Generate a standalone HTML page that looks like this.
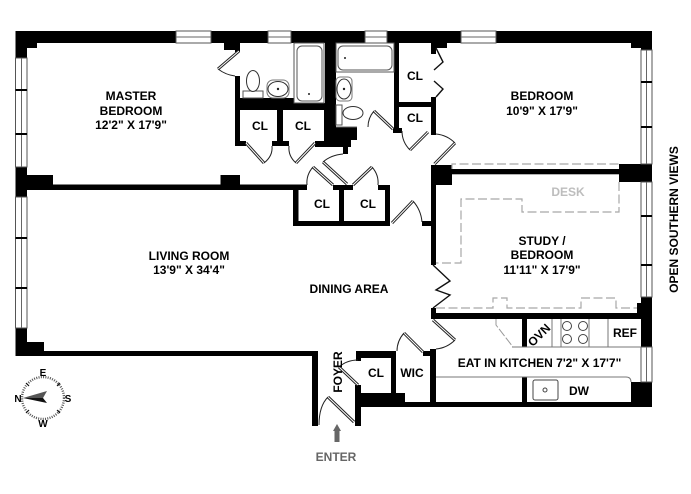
<!DOCTYPE html>
<html>
<head>
<meta charset="utf-8">
<style>
html,body{margin:0;padding:0;background:#fff;}
svg{display:block;filter:blur(0.3px);}
text{font-family:"Liberation Sans",sans-serif;font-weight:bold;font-size:12px;fill:#000;text-anchor:middle;}
</style>
</head>
<body>
<svg width="691" height="494" viewBox="0 0 691 494" xmlns="http://www.w3.org/2000/svg">
<rect width="691" height="494" fill="#fff"/>

<!-- walls -->
<g fill="#000">
  <!-- top wall -->
  <rect x="15.5" y="31" width="636.5" height="12"/>
  <rect x="15.5" y="31" width="11.5" height="27"/>
  <rect x="15.5" y="43" width="21.5" height="5"/>
  <rect x="224" y="43" width="16" height="7"/>
  <rect x="235" y="43" width="5" height="9"/>
  <rect x="431" y="43" width="16" height="5"/>
  <rect x="431" y="43" width="5" height="11"/>
  <rect x="631" y="43" width="21" height="5"/>
  <rect x="641" y="43" width="11" height="7"/>
  <!-- left blocks -->
  <rect x="15.5" y="167" width="11.5" height="30"/>
  <rect x="15.5" y="175" width="37.5" height="15"/>
  <rect x="15.5" y="184.5" width="291.5" height="5.5"/>
  <rect x="220.5" y="175" width="19.5" height="10"/>
  <rect x="15.5" y="328" width="11.5" height="28"/>
  <rect x="15.5" y="342" width="28.5" height="14"/>
  <rect x="15.5" y="351" width="302.5" height="5"/>
  <rect x="312" y="351" width="6" height="75"/>
  <!-- master bath walls -->
  <rect x="235" y="76" width="5" height="70"/>
  <rect x="235" y="98" width="59" height="12"/>
  <rect x="294" y="103" width="31" height="7"/>
  <rect x="235" y="141" width="11" height="5"/>
  <rect x="272" y="141" width="17" height="5"/>
  <rect x="277" y="107" width="6" height="39"/>
  <rect x="315" y="141" width="33" height="6"/>
  <rect x="324" y="107" width="12" height="39"/>
  <rect x="325" y="43" width="11" height="85"/>
  <rect x="336" y="127" width="21" height="13"/>
  <rect x="324" y="133" width="33" height="7"/>
  <rect x="336" y="139" width="15" height="8"/>
  <rect x="343" y="140" width="5" height="14"/>
  <!-- closets lower -->
  <rect x="293" y="185" width="14" height="5"/>
  <rect x="293" y="185" width="5.5" height="41"/>
  <rect x="293" y="221" width="97" height="5"/>
  <rect x="333" y="185" width="20" height="5"/>
  <rect x="339" y="185" width="5" height="41"/>
  <rect x="378" y="185" width="12" height="5"/>
  <rect x="385" y="185" width="5" height="41"/>
  <rect x="422" y="221" width="10" height="5"/>
  <!-- upper closets -->
  <rect x="394" y="43" width="5" height="89"/>
  <rect x="393" y="128" width="9" height="5"/>
  <rect x="394" y="102" width="42" height="5"/>
  <rect x="431" y="97" width="5" height="38"/>
  <!-- center east wall -->
  <rect x="431" y="165" width="5" height="100"/>
  <rect x="431" y="165" width="21" height="20"/>
  <rect x="452" y="169" width="167" height="5.3"/>
  <rect x="619" y="164" width="33" height="18"/>
  <rect x="431" y="308" width="5" height="11"/>
  <rect x="431" y="313" width="206" height="6"/>
  <rect x="637" y="303" width="4" height="16"/>
  <rect x="641" y="297" width="11" height="50"/>
  <!-- kitchen / south -->
  <rect x="522" y="319" width="5" height="28"/>
  <rect x="522" y="377" width="5" height="25"/>
  <rect x="631" y="382" width="21" height="25"/>
  <rect x="355" y="402" width="297" height="5"/>
  <rect x="355" y="393" width="50" height="14"/>
  <rect x="355" y="385" width="6" height="41"/>
  <rect x="356" y="351" width="40" height="7"/>
  <rect x="356" y="351" width="5" height="10"/>
  <rect x="391" y="351" width="5" height="42"/>
  <rect x="423" y="351" width="13" height="5"/>
  <rect x="430" y="349" width="6" height="58"/>
</g>

<!-- windows -->
<g fill="#fff" stroke="#555" stroke-width="1">
  <rect x="176" y="31" width="35" height="12"/>
  <rect x="268" y="31" width="23" height="12"/>
  <rect x="365" y="31" width="22" height="12"/>
  <rect x="461" y="31" width="35" height="12"/>
  <rect x="15.5" y="58" width="11.5" height="109"/>
  <rect x="15.5" y="197" width="11.5" height="131"/>
  <rect x="641" y="50" width="11" height="114"/>
  <rect x="641" y="182" width="11" height="115"/>
  <rect x="641" y="347" width="11" height="35"/>
</g>
<g stroke="#666" stroke-width="1" fill="none">
  <path d="M176 37H211M268 37H291M365 37H387M461 37H496"/>
  <path d="M21.5 58V167M21.5 197V328M646.5 50V164M646.5 182V297M646.5 347V382"/>
</g>
<g stroke="#000" stroke-width="2" fill="none">
  <path d="M15.5 90H27M15.5 134H27M15.5 238H27M15.5 288H27"/>
  <path d="M641 82H652M641 127H652M641 216H652M641 265H652"/>
</g>

<!-- door leaves (double line) -->
<g fill="none" stroke="#222" stroke-width="3" stroke-linecap="butt">
  <path d="M239 51L218 69M246 143L264 163M315 143L296 163M374 111L393 129M428 132L410 150M434.5 164L455 143M323 162L347 184M313 167L333 185M353 185L372 167M392 223L413 201M433 320L455 340M404 333L423 352M339 367L358 385M328 397L354 422"/>
</g>
<g fill="none" stroke="#fff" stroke-width="1">
  <path d="M239 51L218 69M246 143L264 163M315 143L296 163M374 111L393 129M428 132L410 150M434.5 164L455 143M323 162L347 184M313 167L333 185M353 185L372 167M392 223L413 201M433 320L455 340M404 333L423 352M339 367L358 385M328 397L354 422"/>
</g>
<!-- door arcs -->
<g fill="none" stroke="#222" stroke-width="1">
  <path d="M218 69Q226 75 235 76"/>
  <path d="M264 163Q273 156 272 146"/>
  <path d="M296 163Q288 156 289 146"/>
  <path d="M374 111Q368 118 368 127"/>
  <path d="M410 150Q402 142 402 131"/>
  <path d="M455 143Q447 135 436 134"/>
  <path d="M323 162Q331 155 343 154"/>
  <path d="M313 167Q306 175 307 185"/>
  <path d="M372 167Q379 175 378 185"/>
  <path d="M413 201Q421 210 422 222"/>
  <path d="M455 340Q447 348 436 349"/>
  <path d="M404 333Q397 341 397 351"/>
  <path d="M339 367Q347 360 358 360"/>
  <path d="M328 397Q319 406 319 425"/>
</g>
<!-- bifold doors -->
<g fill="none" stroke="#111" stroke-width="1.4">
  <path d="M436 48L443 62L434 70"/>
  <path d="M434 81L443 89L436 97"/>
  <path d="M433 265L450 281L436 290L450 295L433 308"/>
</g>

<!-- fixtures -->
<g fill="#fff" stroke="#555" stroke-width="1">
  <rect x="294" y="43" width="30" height="60"/>
  <rect x="297" y="46" width="25" height="55" rx="5"/>
  <rect x="336" y="43" width="58" height="29"/>
  <rect x="338" y="46" width="54" height="24" rx="5"/>
  <rect x="243" y="91" width="20" height="7"/>
  <ellipse cx="253" cy="81" rx="6.5" ry="10.5" stroke="#333"/>
  <rect x="267" y="80" width="22" height="18" rx="6" stroke="#777"/>
  <ellipse cx="278" cy="89" rx="10" ry="7.5" stroke="#333"/>
  <rect x="336" y="77" width="16" height="24" rx="4" stroke="#777"/>
  <ellipse cx="344" cy="89" rx="7" ry="10" stroke="#333"/>
  <rect x="336" y="105" width="6" height="20"/>
  <ellipse cx="353" cy="113" rx="10" ry="6.5" stroke="#333"/>
</g>
<g fill="#222">
  <circle cx="309" cy="94" r="1"/>
  <circle cx="345" cy="58" r="1"/>
  <circle cx="278" cy="89" r="1.2"/>
  <circle cx="344" cy="89" r="1.2"/>
</g>
<path d="M336 127H357" stroke="#666" stroke-width="1"/>

<!-- kitchen -->
<g fill="none" stroke="#777" stroke-width="1">
  <path d="M512 347H641"/>
  <path d="M552 319V347M561 319V347M589 319V347M608 319V347"/>
  <path d="M436 377H626Q631 377 631 382"/>
  <rect x="533" y="380" width="25" height="20" rx="2" stroke="#444"/>
  <circle cx="545" cy="390" r="2" stroke="#444"/>
  <circle cx="567" cy="326" r="4.5" stroke="#444"/>
  <circle cx="583" cy="326" r="4.5" stroke="#444"/>
  <circle cx="567" cy="339" r="4.5" stroke="#444"/>
  <circle cx="583" cy="339" r="4.5" stroke="#444"/>
</g>
<path d="M496 319V325L513 347" fill="none" stroke="#999" stroke-width="1" stroke-dasharray="9 2"/>

<!-- desk dashed -->
<g fill="none" stroke="#a8a8a8" stroke-width="1.2" stroke-dasharray="9 3.5">
  <path d="M452 169V164H619"/>
  <path d="M619 182V212H522V199H461V263H436"/>
  <path d="M436 308H493V298H507V308H581V298H616V308H637"/>
</g>

<!-- arrow -->
<path d="M337 424L341 431H339.5V442H334.5V431H333Z" fill="#666"/>

<!-- compass -->
<circle cx="43" cy="398" r="21" fill="none" stroke="#555" stroke-width="2.4" stroke-dasharray="1 1.3"/>
<g stroke="#111" stroke-width="1.2">
  <path d="M26 383L29 386M60 383L57 386M26 413L29 410M60 413L57 410"/>
</g>
<path d="M23 398L47 391L43 398Z" fill="#555"/>
<path d="M23 398L43 398L47 403Z" fill="#111"/>
<text x="43" y="376" style="font-size:10px">E</text>
<text x="68" y="402" style="font-size:10px">S</text>
<text x="43" y="427" style="font-size:10px">W</text>
<text x="18" y="402" style="font-size:10px">N</text>

<!-- labels -->
<text x="131" y="100">MASTER</text>
<text x="131" y="115">BEDROOM</text>
<text x="131" y="129">12'2" X 17'9"</text>
<text x="542" y="100">BEDROOM</text>
<text x="542" y="115">10'9" X 17'9"</text>
<text x="568" y="196" style="fill:#bdbdbd">DESK</text>
<text x="542" y="245">STUDY /</text>
<text x="542" y="259">BEDROOM</text>
<text x="542" y="274">11'11" X 17'9"</text>
<text x="189" y="260">LIVING ROOM</text>
<text x="189" y="274">13'9" X 34'4"</text>
<text x="349" y="293">DINING AREA</text>
<text x="539.5" y="367">EAT IN KITCHEN 7'2" X 17'7"</text>
<text x="260" y="130">CL</text>
<text x="303" y="130">CL</text>
<text x="415" y="80">CL</text>
<text x="415" y="122">CL</text>
<text x="322" y="208">CL</text>
<text x="368" y="208">CL</text>
<text x="376" y="377">CL</text>
<text x="412" y="377">WIC</text>
<text x="625" y="337">REF</text>
<text x="579" y="395">DW</text>
<text x="0" y="0" transform="translate(542,338) rotate(-45)">OVN</text>
<text x="0" y="0" transform="translate(342,372) rotate(-90)">FOYER</text>
<text x="0" y="0" transform="translate(678,219.5) rotate(-90)">OPEN SOUTHERN VIEWS</text>
<text x="336" y="461" style="fill:#666">ENTER</text>
</svg>
</body>
</html>
